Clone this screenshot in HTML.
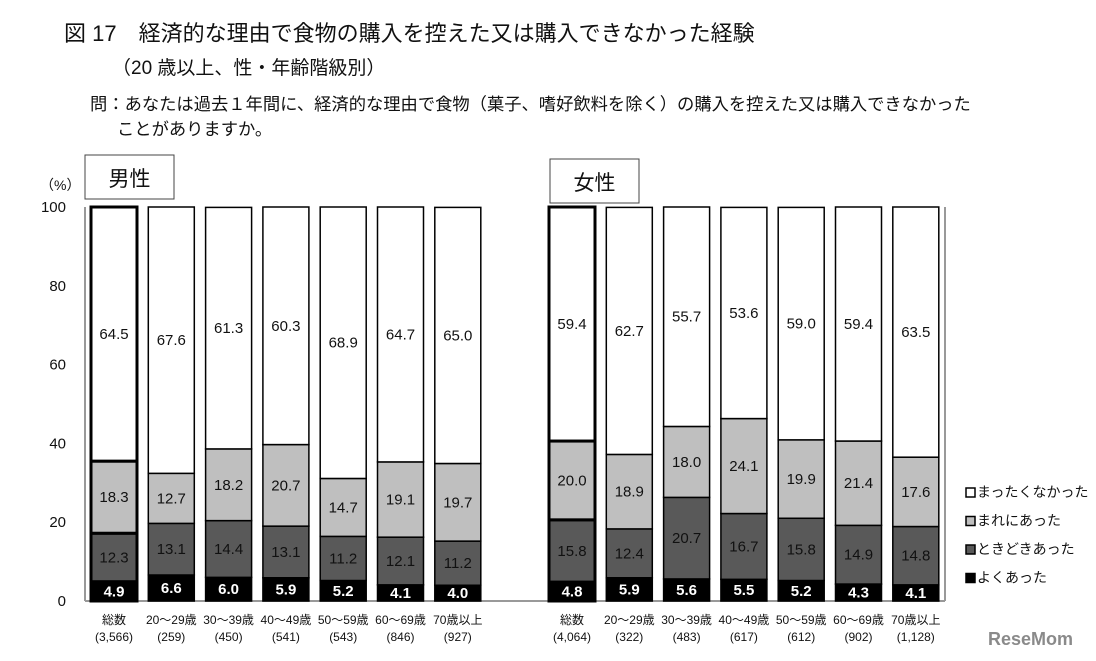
<!DOCTYPE html>
<html><head><meta charset="utf-8">
<style>
body{margin:0;background:#fff;width:1096px;height:661px;overflow:hidden;font-family:"Liberation Sans","Noto Sans CJK JP",sans-serif;}
svg{display:block}
text{font-family:"Liberation Sans","Noto Sans CJK JP",sans-serif;}
</style></head>
<body>
<svg id="c" width="1096" height="661">
<text x="64" y="41" font-size="22" fill="#111">図 17　経済的な理由で食物の購入を控えた又は購入できなかった経験</text>
<text x="112" y="74" font-size="19" fill="#111">（20 歳以上、性・年齢階級別）</text>
<text x="90" y="110" font-size="17.3" fill="#111">問：あなたは過去１年間に、経済的な理由で食物（菓子、嗜好飲料を除く）の購入を控えた又は購入できなかった</text>
<text x="117" y="135" font-size="17.3" fill="#111">ことがありますか。</text>
<text x="40" y="190" font-size="14" fill="#111">（%）</text>
<g><rect x="85" y="155" width="89" height="44" fill="#fff" stroke="#444" stroke-width="1"/><text x="129.5" y="186" font-size="21" text-anchor="middle" fill="#111">男性</text></g>
<g><rect x="550" y="159" width="89" height="44" fill="#fff" stroke="#444" stroke-width="1"/><text x="594.5" y="190" font-size="21" text-anchor="middle" fill="#111">女性</text></g>
<g id="axes"></g>
<g id="bars"></g>
<g id="legend"></g>
<text x="988" y="645" font-size="18" font-weight="bold" fill="#8a8a8a">ReseMom</text>
</svg>
<script>
const maleCats=["総数","20～29歳","30～39歳","40～49歳","50～59歳","60～69歳","70歳以上"];
const maleN=["(3,566)","(259)","(450)","(541)","(543)","(846)","(927)"];
const femaleCats=["総数","20～29歳","30～39歳","40～49歳","50～59歳","60～69歳","70歳以上"];
const femaleN=["(4,064)","(322)","(483)","(617)","(612)","(902)","(1,128)"];
const maleOften=[4.9,6.6,6.0,5.9,5.2,4.1,4.0];
const maleSometimes=[12.3,13.1,14.4,13.1,11.2,12.1,11.2];
const maleRarely=[18.3,12.7,18.2,20.7,14.7,19.1,19.7];
const maleNever=[64.5,67.6,61.3,60.3,68.9,64.7,65.0];
const femaleOften=[4.8,5.9,5.6,5.5,5.2,4.3,4.1];
const femaleSometimes=[15.8,12.4,20.7,16.7,15.8,14.9,14.8];
const femaleRarely=[20.0,18.9,18.0,24.1,19.9,21.4,17.6];
const femaleNever=[59.4,62.7,55.7,53.6,59.0,59.4,63.5];
const yTicks=[0,20,40,60,80,100];
const legendLabels=["まったくなかった","まれにあった","ときどきあった","よくあった"];

const NS="http://www.w3.org/2000/svg";
const y0=601,y100=207;
const y=v=>y0-(y0-y100)*v/100;
function mk(tag,attrs,parent){const e=document.createElementNS(NS,tag);for(const k in attrs)e.setAttribute(k,attrs[k]);parent.appendChild(e);return e;}
const axes=document.getElementById('axes'),bars=document.getElementById('bars'),leg=document.getElementById('legend');
yTicks.forEach(t=>{const tx=mk('text',{x:66,y:y(t)+5,'font-size':15,'text-anchor':'end',fill:'#111'},axes);tx.textContent=t;

});
let l=mk('line',{x1:85,y1:y100,x2:85,y2:y0,stroke:'#999','stroke-width':2},axes);


l=mk('line',{x1:945,y1:y100,x2:945,y2:y0,stroke:'#999','stroke-width':2},axes);


l=mk('line',{x1:85,y1:y0,x2:945,y2:y0,stroke:'#999','stroke-width':2},axes);


const fills=['#000','#595959','#bfbfbf','#fff'];
function drawGroup(startX,cats,ns,series,sex){
  cats.forEach((c,i)=>{
    const x=startX+i*57.3,w=46,cx=x+w/2;
    const g=mk('g',{},bars);
    
    
    let acc=0;
    series.forEach((s,k)=>{
      const v=s[i];const top=y(acc+v),bot=y(acc);
      const r=mk('rect',{x:x,y:top,width:w,height:bot-top,fill:fills[k],stroke:'#000','stroke-width':i===0?3:1.5},g);
      
      
      const t=mk('text',{x:cx,y:(top+bot)/2+5,'font-size':15,'text-anchor':'middle',fill:k===0?'#fff':'#111','font-weight':k===0?'bold':'normal'},g);
      t.textContent=v.toFixed(1);
      
      
      acc+=v;
    });
    const t1=mk('text',{x:cx,y:624,'font-size':12,'text-anchor':'middle',fill:'#111'},bars);t1.textContent=c;
    
    
    const t2=mk('text',{x:cx,y:641,'font-size':12,'text-anchor':'middle',fill:'#111'},bars);t2.textContent=ns[i];
    
    
  });
}
drawGroup(91,maleCats,maleN,[maleOften,maleSometimes,maleRarely,maleNever],'male');
drawGroup(549,femaleCats,femaleN,[femaleOften,femaleSometimes,femaleRarely,femaleNever],'female');
const lf=['#fff','#bfbfbf','#595959','#000'];
legendLabels.forEach((s,i)=>{
  const yy=497+i*28.5;
  const g=mk('g',{},leg);
  
  
  mk('rect',{x:966,y:yy-9,width:9,height:9,fill:lf[i],stroke:'#000','stroke-width':1.5},g);
  const t=mk('text',{x:977,y:yy,'font-size':14,fill:'#111'},g);t.textContent=s;
});
</script>
</body></html>
